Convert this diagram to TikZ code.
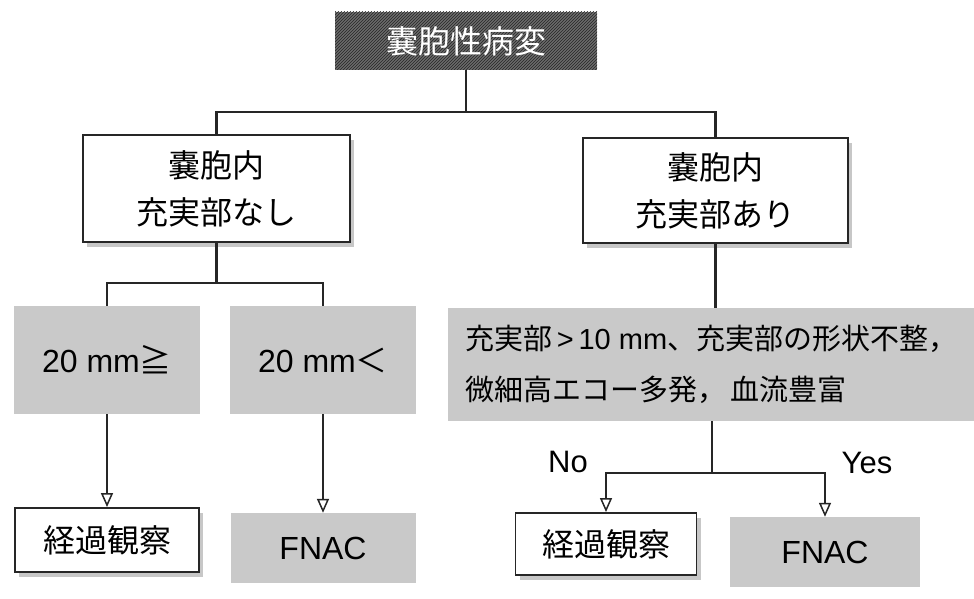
\documentclass[tikz,border=0pt]{standalone}
\usepackage{fontspec}
\setmainfont{Noto Sans CJK JP}
\newfontfamily\lat{Liberation Sans}
\usetikzlibrary{arrows.meta,patterns,shadows}
\begin{document}
\begin{tikzpicture}[x=1pt,y=-1pt,
  wbox/.style={draw=black!85, line width=1.9pt, fill=white, inner sep=0pt, align=center,
    font=\fontsize{32}{47}\selectfont,
    general shadow={fill=black!22, shadow xshift=4pt, shadow yshift=-5pt}},
  gbox/.style={fill=black!21, inner sep=0pt, align=center, font=\fontsize{32}{47}\selectfont},
  topbox/.style={fill=black!58, postaction={pattern=north east lines, pattern color=black!85},
    inner sep=0pt, text=white, font=\fontsize{32}{40}\selectfont},
  conn/.style={draw=black!85, line width=2.2pt},
  arr/.style={conn, -{Triangle[open, width=12pt, length=14pt, line width=1.5pt]}},
  lbl/.style={font=\lat\fontsize{31}{36}\selectfont, inner sep=0pt}
]
\useasboundingbox (0,0) rectangle (974,599);
\fill[white] (0,0) rectangle (974,599);

\node[topbox, minimum width=262, minimum height=58] (top) at (466,41) {嚢胞性病変};

\node[wbox, minimum width=267, minimum height=107] (L1) at (216.5,188.5) {嚢胞内\\充実部なし};
\node[wbox, minimum width=265, minimum height=105] (R1) at (715.5,190.5) {嚢胞内\\充実部あり};

\node[gbox, minimum width=186, minimum height=108] (G1) at (107,360) {{\lat 20 mm}≧};
\node[gbox, minimum width=186, minimum height=108] (G2) at (323,360) {{\lat 20 mm}＜};

\node[gbox, minimum width=526, minimum height=113] (G3) at (711,364.5) {};
\node[anchor=west, align=left, inner sep=0pt, font=\fontsize{29}{51}\selectfont] (G3t)
  at ([xshift=17pt]G3.west) {充実部{\lat\,>\,10 mm}、充実部の形状不整，\\微細高エコー多発，\,血流豊富};

\node[wbox, minimum width=184, minimum height=64] (B1) at (107,540) {経過観察};
\node[gbox, minimum width=185, minimum height=70] (F1) at (323,548) {\lat FNAC};
\node[wbox, minimum width=181, minimum height=62] (B2) at (606,544) {経過観察};
\node[gbox, minimum width=190, minimum height=70] (F2) at (825,552) {\lat FNAC};

\coordinate (j1) at ([yshift=-42pt]top.south);
\coordinate (j2) at ([yshift=-40pt]L1.south);
\coordinate (j3) at (712,473);

\draw[conn] (top.south) -- (j1);
\draw[conn] (L1.north) |- (j1) -| (R1.north);
\draw[conn] (L1.south) -- (j2);
\draw[conn] (G1.north) |- (j2) -| (G2.north);
\draw[arr] (G1.south) -- (B1.north);
\draw[arr] (G2.south) -- (F1.north);
\draw[conn] (R1.south) -- (R1.south |- G3.north);
\draw[conn] (G3.south -| j3) -- (j3);
\draw[arr] (j3) -| (B2.north);
\draw[arr] (j3) -| (F2.north);

\node[lbl] (no) at (568,462) {No};
\node[lbl] (yes) at (867,463) {Yes};
\end{tikzpicture}
\end{document}
